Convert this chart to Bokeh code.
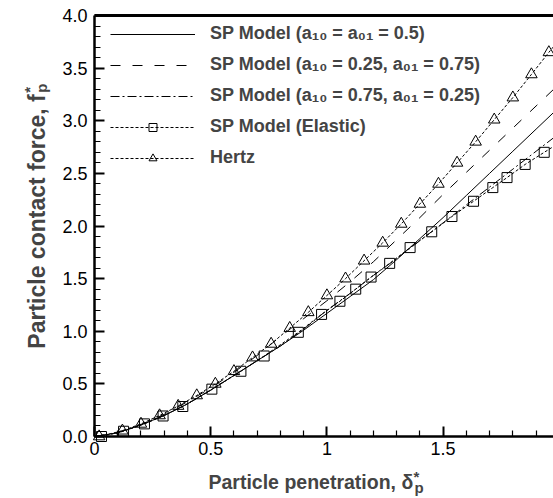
import math
from bokeh.plotting import figure
from bokeh.models import (LinearAxis, FixedTicker, Legend, LegendItem, Label, Range1d)
from bokeh.embed import file_html
from bokeh.resources import INLINE

# ---------------- data ----------------
grid_x = [0.0, 0.1, 0.2, 0.3, 0.4, 0.5, 0.6, 0.7, 0.8, 0.9, 1.0,
          1.1, 1.2, 1.3, 1.4, 1.5, 1.6, 1.7, 1.8, 1.9, 2.0]
sp_half = [0.0, 0.035, 0.11, 0.20, 0.31, 0.44, 0.58, 0.72, 0.86, 1.01, 1.17,
           1.33, 1.49, 1.68, 1.88, 2.08, 2.29, 2.50, 2.71, 2.92, 3.13]
sp_025_075 = [0.0, 0.04, 0.115, 0.21, 0.33, 0.46, 0.61, 0.77, 0.95, 1.12, 1.29,
              1.47, 1.66, 1.87, 2.08, 2.30, 2.51, 2.72, 2.93, 3.14, 3.35]
sp_075_025 = [0.0, 0.035, 0.11, 0.20, 0.31, 0.44, 0.58, 0.72, 0.86, 1.02, 1.20,
              1.36, 1.53, 1.69, 1.86, 2.03, 2.20, 2.37, 2.54, 2.71, 2.88]

elastic_x = [0.03, 0.125, 0.215, 0.295, 0.38, 0.505, 0.63, 0.73, 0.877, 0.977,
             1.056, 1.124, 1.19, 1.27, 1.358, 1.451, 1.538, 1.631, 1.714, 1.775,
             1.853, 1.935, 2.0]
elastic_f = [0.0, 0.05, 0.12, 0.195, 0.285, 0.45, 0.62, 0.765, 0.99, 1.16,
             1.285, 1.40, 1.515, 1.645, 1.795, 1.945, 2.09, 2.235, 2.365, 2.46,
             2.585, 2.70, 2.79]

hertz_x = [0.02, 0.12, 0.20, 0.28, 0.36, 0.44, 0.52, 0.60, 0.68, 0.76, 0.84,
           0.92, 1.00, 1.08, 1.16, 1.24, 1.32, 1.40, 1.48, 1.56, 1.64, 1.72,
           1.80, 1.88, 1.955, 2.0]
hertz_f = [0.0, 0.055, 0.12, 0.20, 0.29, 0.39, 0.50, 0.62, 0.75, 0.88, 1.03,
           1.18, 1.34, 1.50, 1.67, 1.84, 2.02, 2.21, 2.40, 2.60, 2.80, 3.01,
           3.22, 3.44, 3.65, 3.77]

x_major = [0, 0.5, 1, 1.5, 2]
x_labels = ["0", "0.5", "1", "1.5", "2"]
x_minor = [0.1, 0.2, 0.3, 0.4, 0.6, 0.7, 0.8, 0.9, 1.1, 1.2, 1.3, 1.4,
           1.6, 1.7, 1.8, 1.9]
y_major = [0, 0.5, 1, 1.5, 2, 2.5, 3, 3.5, 4]
y_labels = ["0.0", "0.5", "1.0", "1.5", "2.0", "2.5", "3.0", "3.5", "4.0"]
y_minor = [0.1, 0.2, 0.3, 0.4, 0.6, 0.7, 0.8, 0.9, 1.1, 1.2, 1.3, 1.4,
           1.6, 1.7, 1.8, 1.9, 2.1, 2.2, 2.3, 2.4, 2.6, 2.7, 2.8, 2.9,
           3.1, 3.2, 3.3, 3.4, 3.6, 3.7, 3.8, 3.9]

series_labels = ["SP Model (a\u2081\u2080 = a\u2080\u2081 = 0.5)",
                 "SP Model (a\u2081\u2080 = 0.25, a\u2080\u2081 = 0.75)",
                 "SP Model (a\u2081\u2080 = 0.75, a\u2080\u2081 = 0.25)",
                 "SP Model (Elastic)",
                 "Hertz"]

FONT = "Liberation Sans"

# visible axes box: x 0..1.975, y 0..4; the frame covers the whole canvas
X_END = 1.975
p = figure(width=553, height=498, x_range=Range1d(-0.4045, X_END),
           y_range=Range1d(-0.589, 4.1425),
           output_backend="svg", toolbar_location=None,
           min_border_left=0, min_border_right=0, min_border_top=0, min_border_bottom=0)
p.outline_line_color = None
p.xgrid.visible = False
p.ygrid.visible = False

r1 = p.line(grid_x, sp_half, line_color="black", line_width=1)
r2 = p.line(grid_x, sp_025_075, line_color="black", line_width=1, line_dash="10 12")
r3 = p.line(grid_x, sp_075_025, line_color="black", line_width=1, line_dash="9 3 2 3")
r4l = p.line(elastic_x, elastic_f, line_color="black", line_width=1, line_dash="3 2")
r4m = p.scatter(elastic_x[:-1], elastic_f[:-1], marker="square", size=10,
                line_color="black", fill_color=None, line_width=1)
r5l = p.line(hertz_x, hertz_f, line_color="black", line_width=1, line_dash="3 2")
r5m = p.scatter(hertz_x[:-1], hertz_f[:-1], marker="triangle", size=11.5,
                line_color="black", fill_color=None, line_width=1)

for ax, maj, mnr, labs, bnds in ((p.xaxis[0], x_major, x_minor, x_labels, (0, X_END)),
                                 (p.yaxis[0], y_major, y_minor, y_labels, (0, 4))):
    ax.fixed_location = 0
    ax.bounds = bnds
    ax.ticker = FixedTicker(ticks=maj, minor_ticks=mnr)
    ax.major_label_overrides = {m: l for m, l in zip(maj, labs)}
    ax.axis_line_width = 2.5
    ax.major_tick_line_width = 2
    ax.minor_tick_line_width = 1.2
    ax.major_tick_in = 10
    ax.major_tick_out = 0
    ax.minor_tick_in = 6
    ax.minor_tick_out = 0
    ax.major_label_text_font = FONT
    ax.major_label_text_font_size = "18px"
    ax.major_label_text_color = "black"
    ax.axis_line_color = "black"
p.xaxis[0].major_label_standoff = 5
p.yaxis[0].major_label_standoff = 7

top = LinearAxis(ticker=FixedTicker(ticks=[]), fixed_location=4.0, bounds=(0, X_END),
                 axis_line_width=3,
                 major_tick_in=0, major_tick_out=0, minor_tick_in=0, minor_tick_out=0,
                 major_label_text_font_size="0px")
p.add_layout(top, "above")

legend = Legend(items=[LegendItem(label=series_labels[0], renderers=[r1]),
                       LegendItem(label=series_labels[1], renderers=[r2]),
                       LegendItem(label=series_labels[2], renderers=[r3]),
                       LegendItem(label=series_labels[3], renderers=[r4l, r4m]),
                       LegendItem(label=series_labels[4], renderers=[r5l, r5m])],
                location=(110, 330), glyph_width=85, glyph_height=20, label_height=20,
                spacing=10, padding=0, margin=0, label_standoff=15,
                border_line_color=None, background_fill_alpha=0,
                label_text_font=FONT, label_text_font_style="bold",
                label_text_font_size="18px")
p.add_layout(legend)


def dlabel(x, y, text, size, xo=0, yo=0, align="left", baseline="alphabetic",
           angle=0.0, bold=True):
    p.add_layout(Label(x=x, y=y, x_offset=xo, y_offset=yo, text=text,
                       angle=angle, text_align=align, text_baseline=baseline,
                       text_font=FONT, text_font_style="bold" if bold else "normal",
                       text_font_size=size))


# partially visible "2" tick label at the cut right edge
dlabel(2.0, 0, "2", "18px", yo=-5, align="center", baseline="top", bold=False)

# x title with sub/superscript
dlabel(0.4905, 0, "Particle penetration, \u03b4", "19.5px", yo=-45)
dlabel(1.377, 0, "p", "15px", yo=-51)
dlabel(1.373, 0, "*", "15px", yo=-40)

# y title with sub/superscript
dlabel(0, 2.043, "Particle contact force, f", "23px", xo=-58, align="center",
       angle=math.pi / 2)
dlabel(0, 3.265, "p", "15px", xo=-53, angle=math.pi / 2)
dlabel(0, 3.265, "*", "15px", xo=-65, angle=math.pi / 2)

open("out.html", "w").write(file_html(p, INLINE))
